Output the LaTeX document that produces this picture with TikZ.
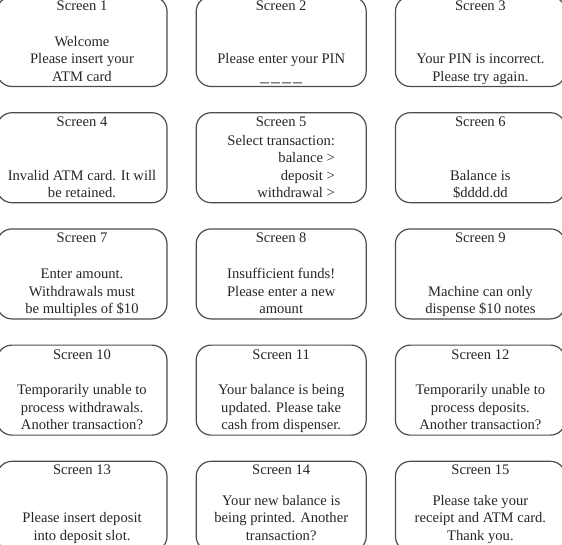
\documentclass[tikz,border=0pt]{standalone}
\usepackage{fontspec}
\setmainfont{Liberation Serif}
\usetikzlibrary{positioning}

\begin{document}
\begin{tikzpicture}[x=1pt, y=-1pt, node distance=25pt and 28pt,
  screen/.style={draw=black!70, line width=1.2pt, rounded corners=15pt, minimum width=170pt, minimum height=90pt, inner sep=0pt},
  title/.style={anchor=base, inner sep=0pt, text=black!85, font=\fontsize{14.6}{17.5}\selectfont},
  msg/.style={anchor=south, inner sep=0pt, align=center, text=black!85, font=\fontsize{14.6}{17.5}\selectfont, execute at end node=\strut}]
\useasboundingbox (0,0) rectangle (562,544);
% screens, row by row
\node (s1) [screen] at (82,41.5) {};
\node (s2) [screen, right=of s1] {};
\node (s3) [screen, right=of s2] {};
\node (s4) [screen, below=of s1] {};
\node (s5) [screen, right=of s4] {};
\node (s6) [screen, right=of s5] {};
\node (s7) [screen, below=of s4] {};
\node (s8) [screen, right=of s7] {};
\node (s9) [screen, right=of s8] {};
\node (s10) [screen, below=of s7] {};
\node (s11) [screen, right=of s10] {};
\node (s12) [screen, right=of s11] {};
\node (s13) [screen, below=of s10] {};
\node (s14) [screen, right=of s13] {};
\node (s15) [screen, right=of s14] {};
% titles
\node (t1) [title] at ([yshift=-14.5pt]s1.north) {Screen 1};
\node (t2) [title] at ([yshift=-14.5pt]s2.north) {Screen 2};
\node (t3) [title] at ([yshift=-14.5pt]s3.north) {Screen 3};
\node (t4) [title] at ([yshift=-14.5pt]s4.north) {Screen 4};
\node (t5) [title] at ([yshift=-14.5pt]s5.north) {Screen 5};
\node (t6) [title] at ([yshift=-14.5pt]s6.north) {Screen 6};
\node (t7) [title] at ([yshift=-14.5pt]s7.north) {Screen 7};
\node (t8) [title] at ([yshift=-14.5pt]s8.north) {Screen 8};
\node (t9) [title] at ([yshift=-14.5pt]s9.north) {Screen 9};
\node (t10) [title] at ([yshift=-14.5pt]s10.north) {Screen 10};
\node (t11) [title] at ([yshift=-14.5pt]s11.north) {Screen 11};
\node (t12) [title] at ([yshift=-14.5pt]s12.north) {Screen 12};
\node (t13) [title] at ([yshift=-14pt]s13.north) {Screen 13};
\node (t14) [title] at ([yshift=-14pt]s14.north) {Screen 14};
\node (t15) [title] at ([yshift=-14pt]s15.north) {Screen 15};
% messages
\node (m1) [msg] at ([yshift=0.3pt]s1.south) {Welcome\\Please insert your\\ATM card};
\node (m2) [msg] at ([yshift=0.3pt]s2.south) {Please enter your PIN\\{\fontsize{18}{17.5}\selectfont\_\hspace{2pt}\_\hspace{2pt}\_\hspace{2pt}\_}};
\node (m3) [msg] at ([yshift=0.3pt]s3.south) {Your PIN is incorrect.\\Please try again.};
\node (m4) [msg] at ([yshift=0.3pt]s4.south) {Invalid ATM card. It will\\be retained.};
\node (m5) [msg, align=right] at ([yshift=0.3pt]s5.south) {Select transaction:\\balance >\\deposit >\\withdrawal >};
\node (m6) [msg] at ([yshift=0.3pt]s6.south) {Balance is\\\$dddd.dd};
\node (m7) [msg] at ([yshift=0.3pt]s7.south) {Enter amount.\\Withdrawals must\\be multiples of \$10};
\node (m8) [msg] at ([yshift=0.3pt]s8.south) {Insufficient funds!\\Please enter a new\\amount};
\node (m9) [msg] at ([yshift=0.3pt]s9.south) {Machine can only\\dispense \$10 notes};
\node (m10) [msg] at ([yshift=0.3pt]s10.south) {Temporarily unable to\\process withdrawals.\\Another transaction?};
\node (m11) [msg] at ([yshift=0.3pt]s11.south) {Your balance is being\\updated. Please take\\cash from dispenser.};
\node (m12) [msg] at ([yshift=0.3pt]s12.south) {Temporarily unable to\\process deposits.\\Another transaction?};
% bottom row sits a little higher in its cut-off boxes
\node (m13) [msg] at ([yshift=6pt]s13.south) {Please insert deposit\\into deposit slot.};
\node (m14) [msg] at ([yshift=6pt]s14.south) {Your new balance is\\being printed. Another\\transaction?};
\node (m15) [msg] at ([yshift=6pt]s15.south) {Please take your\\receipt and ATM card.\\Thank you.};
\end{tikzpicture}
\end{document}
